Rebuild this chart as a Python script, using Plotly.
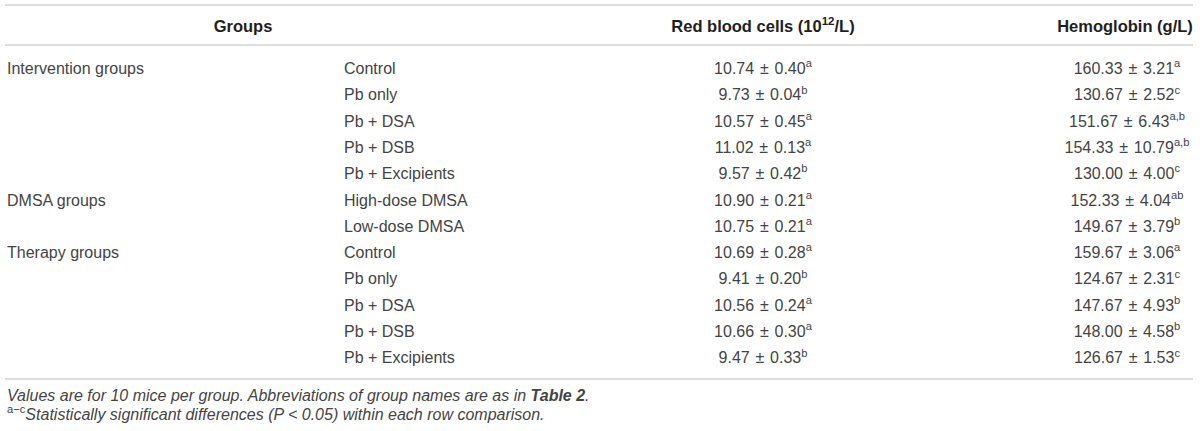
import plotly.graph_objects as go

# table content
families = ["Intervention groups"] * 5 + ["DMSA groups"] * 2 + ["Therapy groups"] * 5
subgroups = ["Control", "Pb only", "Pb + DSA", "Pb + DSB", "Pb + Excipients",
             "High-dose DMSA", "Low-dose DMSA",
             "Control", "Pb only", "Pb + DSA", "Pb + DSB", "Pb + Excipients"]
rbc_mean = [10.74, 9.73, 10.57, 11.02, 9.57, 10.90, 10.75, 10.69, 9.41, 10.56, 10.66, 9.47]
rbc_sd = [0.40, 0.04, 0.45, 0.13, 0.42, 0.21, 0.21, 0.28, 0.20, 0.24, 0.30, 0.33]
rbc_sig = ["a", "b", "a", "a", "b", "a", "a", "a", "b", "a", "a", "b"]
hb_mean = [160.33, 130.67, 151.67, 154.33, 130.00, 152.33, 149.67, 159.67, 124.67, 147.67, 148.00, 126.67]
hb_sd = [3.21, 2.52, 6.43, 10.79, 4.00, 4.04, 3.79, 3.06, 2.31, 4.93, 4.58, 1.53]
hb_sig = ["a", "c", "a,b", "a,b", "c", "ab", "b", "a", "c", "b", "b", "c"]

headers = ["Groups", "Red blood cells (10<sup>12</sup>/L)", "Hemoglobin (g/L)"]
notes = [
    "<i>Values are for 10 mice per group. Abbreviations of group names are as in <b>Table 2</b>.</i>",
    "<sup>a−c</sup><i>Statistically significant differences (P &lt; 0.05) within each row comparison.</i>",
]

W, H = 1200, 431
FONT = "Liberation Sans, Arial, sans-serif"
BODY = "#444444"
RULE = "#dedede"
PM = " \u200a±\u200a "  # slightly wider gaps around ± like the original typeface

row_y = [70 + 26.3 * i for i in range(len(subgroups))]
family_text = [f if i == 0 or families[i - 1] != f else "" for i, f in enumerate(families)]
rbc_text = [f"{m:.2f}{PM}{s:.2f}<sup>{g}</sup>" for m, s, g in zip(rbc_mean, rbc_sd, rbc_sig)]
hb_text = [f"{m:.2f}{PM}{s:.2f}<sup>{g}</sup>" for m, s, g in zip(hb_mean, hb_sd, hb_sig)]

fig = go.Figure()

def text_col(x, y, text, pos, size=16, color=BODY):
    fig.add_trace(go.Scatter(
        x=[x] * len(text), y=y, text=text, mode="text",
        textposition=pos, textfont=dict(family=FONT, size=size, color=color),
        cliponaxis=False, hoverinfo="skip", showlegend=False,
    ))

text_col(7, row_y, family_text, "middle right")
text_col(344, row_y, subgroups, "middle right")
text_col(763, row_y, rbc_text, "middle center")
text_col(1127, row_y, hb_text, "middle center")

# header
fig.add_trace(go.Scatter(
    x=[243, 763, 1125], y=[28] * 3, text=[f"<b>{h}</b>" for h in headers],
    mode="text", textposition="middle center",
    textfont=dict(family=FONT, size=16.5, color="#1e1e1e"),
    cliponaxis=False, hoverinfo="skip", showlegend=False,
))

# footnotes
text_col(7, [397, 416], notes, "middle right", size=16)

for yy in [5, 45, 379]:
    fig.add_shape(type="line", x0=5, x1=1193, y0=yy, y1=yy, xref="x", yref="y",
                  line=dict(color=RULE, width=2))

fig.update_layout(
    width=W, height=H,
    margin=dict(l=0, r=0, t=0, b=0),
    paper_bgcolor="white", plot_bgcolor="white",
    xaxis=dict(range=[0, W], visible=False, fixedrange=True),
    yaxis=dict(range=[H, 0], visible=False, fixedrange=True),
)
fig.write_html("out.html", config={"displayModeBar": False},
               post_script="document.body.style.margin='0';")
